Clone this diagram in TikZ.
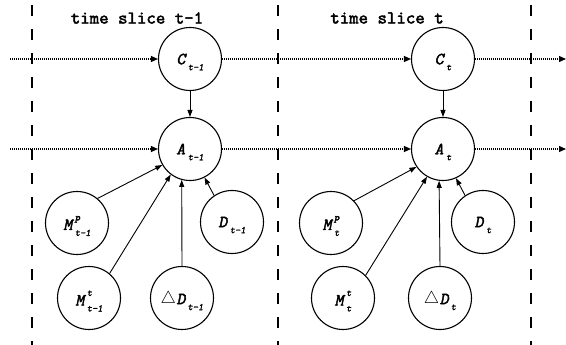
\documentclass[tikz,border=0pt]{standalone}
\usepackage{fontspec}
\usetikzlibrary{arrows.meta}
\newfontfamily\courb{lmmono10-regular.otf}[FakeBold=2.2]
\newfontfamily\courbo{lmmono10-regular.otf}[FakeBold=2.4,FakeSlant=0.2]
\newcommand\titlef{\courb\fontsize{18}{18}\selectfont}
\newcommand\labf{\courbo\fontsize{17}{17}\selectfont}
\newcommand\subf{\courbo\fontsize{10}{10}\selectfont}
% variable label: base letter, superscript, subscript
\newcommand\vlab[3]{{\labf #1}\kern2.5pt\rlap{\raisebox{9.5pt}{\subf #2}}\raisebox{-6pt}{\subf #3}}
\newcommand\dlab[1]{\raisebox{0.3pt}{\fontsize{16}{16}\selectfont$\triangle$}\kern0.5pt{\labf D}\kern2pt\raisebox{-6pt}{\subf #1}}
\begin{document}
\begin{tikzpicture}[x=1pt,y=-1pt,
  var/.style={circle,draw,line width=1.1pt,minimum size=63pt,inner sep=0pt,text depth=0pt},
  sliceline/.style={line width=1.4pt,dash pattern=on 11pt off 13pt},
  temporal/.style={line width=1.2pt,dash pattern=on 1pt off 1pt,-{Triangle[length=7pt,width=6pt]}},
  causal/.style={line width=0.9pt,-{Triangle[length=7pt,width=5pt]}}]
\useasboundingbox (0,0) rectangle (566,345);

% time slice boundaries
\draw[sliceline] (32,5) -- (32,345);
\draw[sliceline] (278,5) -- (278,345);
\draw[sliceline] (531,5) -- (531,345);

\node (title1) at (137,18) {\titlef time slice t-1};
\node (title2) at (387,18) {\titlef time slice t};

% slice t-1
\node[var] (C1) at (190,59) {\vlab{C}{}{t-1}};
\node[var] (A1) at (190,149) {\vlab{A}{}{t-1}};
\node[var] (Mp1) at (77,223) {\vlab{M}{p}{t-1}};
\node[var] (D1) at (232,222) {\vlab{D}{}{t-1}};
\node[var] (Mt1) at (89,298) {\vlab{M}{t}{t-1}};
\node[var] (dD1) at (182,298) {\dlab{t-1}};

% slice t
\node[var] (C2) at (443,59) {\vlab{C}{}{t}};
\node[var] (A2) at (443,149) {\vlab{A}{}{t}};
\node[var] (Mp2) at (331,223) {\vlab{M}{p}{t}};
\node[var] (D2) at (483,222) {\vlab{D}{}{t}};
\node[var] (Mt2) at (343,298) {\vlab{M}{t}{t}};
\node[var] (dD2) at (440,298) {\dlab{t}};

\coordinate (cin) at (10,59);
\coordinate (ain) at (10,149);
\coordinate (cout) at (566,59);
\coordinate (aout) at (566,149);

% temporal links
\draw[temporal] (cin) -- (C1);
\draw[temporal] (C1) -- (C2);
\draw[temporal] (C2) -- (cout);
\draw[temporal] (ain) -- (A1);
\draw[temporal] (A1) -- (A2);
\draw[temporal] (A2) -- (aout);

% within-slice links
\draw[causal] (C1) -- (A1);
\draw[causal] (Mp1.50) -- (A1.210);
\draw[causal] (Mt1.50) -- (A1.233);
\draw[causal] (dD1.north) -- (A1.255);
\draw[causal] (D1.124) -- (A1.297);

\draw[causal] (C2) -- (A2);
\draw[causal] (Mp2.44) -- (A2.214);
\draw[causal] (Mt2.45) -- (A2.240);
\draw[causal] (dD2.north) -- (A2.263);
\draw[causal] (D2.124) -- (A2.294);
\end{tikzpicture}
\end{document}
